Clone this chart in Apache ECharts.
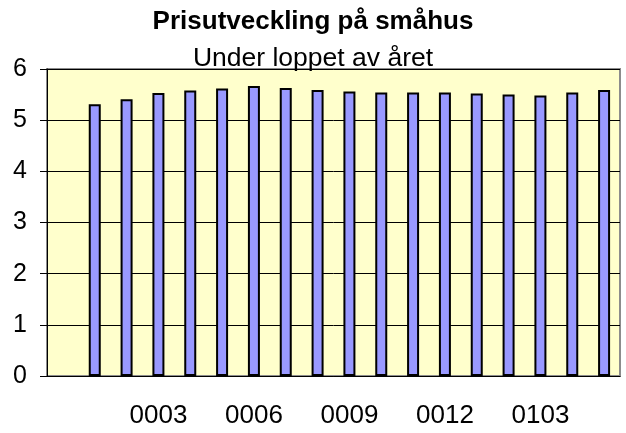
<!DOCTYPE html>
<html>
<head>
<meta charset="utf-8">
<script src="https://cdn.jsdelivr.net/npm/echarts@6/dist/echarts.min.js"></script>
<style>
  html, body { margin: 0; padding: 0; background: #fff; }
  #main { width: 626px; height: 433px; }
</style>
</head>
<body>
<div id="main"></div>
<script>
// kategorier (första är tom, ingen stapel)
const categories = ["", "0001", "0002", "0003", "0004", "0005", "0006", "0007", "0008", "0009",
  "0010", "0011", "0012", "0101", "0102", "0103", "0104", "0105"];
// prisindex per månad
const values = [null, 5.31, 5.41, 5.53, 5.58, 5.62, 5.67, 5.63, 5.59, 5.56,
  5.54, 5.54, 5.54, 5.52, 5.50, 5.48, 5.54, 5.59];
const yMin = 0, yMax = 6, yStep = 1;

const font = "'Liberation Sans', Arial, sans-serif";
let myChart = echarts.init(document.getElementById("main"));
let option = {
  animation: false,
  title: {
    text: "Prisutveckling på småhus",
    subtext: "Under loppet av året",
    left: "center",
    top: 4,
    itemGap: 10,
    textStyle: { fontFamily: font, fontSize: 26, fontWeight: "bold", color: "#000" },
    subtextStyle: { fontFamily: font, fontSize: 26.5, color: "#000" },
  },
  grid: {
    left: 47, right: 6, top: 69, bottom: 57,
    show: true,
    backgroundColor: "#FFFFCC",
    borderColor: "#8c8c8c",
    borderWidth: 2,
  },
  xAxis: {
    type: "category",
    data: categories,
    axisLine: { lineStyle: { color: "#000", width: 1 } },
    axisTick: { show: false },
    axisLabel: { interval: 2, margin: 27, fontFamily: font, fontSize: 26, color: "#000" },
  },
  yAxis: {
    type: "value",
    min: yMin, max: yMax, interval: yStep,
    axisLine: { show: true, lineStyle: { color: "#000", width: 1 } },
    axisTick: { show: true, length: 7, lineStyle: { color: "#000" } },
    axisLabel: { margin: 20, fontFamily: font, fontSize: 25, color: "#000" },
    splitLine: { lineStyle: { color: "#000", width: 1 } },
  },
  series: [
    {
      type: "bar",
      data: values,
      barWidth: 12,
      itemStyle: { color: "#9999FF", borderColor: "#000", borderWidth: 2 },
    },
  ],
};
option && myChart.setOption(option);
</script>
</body>
</html>
